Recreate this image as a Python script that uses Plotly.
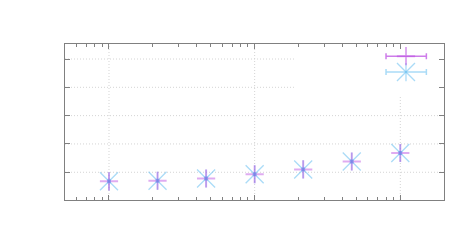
import plotly.graph_objects as go

# data
sizes = [1, 2.154, 4.642, 10, 21.54, 46.42, 100]
series_a = [0.68, 0.70, 0.78, 0.93, 1.10, 1.38, 1.68]   # magenta "+"
series_b = [0.68, 0.70, 0.78, 0.93, 1.10, 1.38, 1.68]   # cyan "*"
summary_x = [109.4]
summary_a = [5.10]
summary_b = [4.54]
summary_err_minus = [29.6]
summary_err_plus = [41.6]
y_ticks = [1, 2, 3, 4, 5]
x_major = [1, 10, 100]

MAG = "rgba(185,70,225,0.45)"
CYA = "rgba(100,190,240,0.55)"
DOT = "rgba(70,120,230,0.4)"
GRID = "#d4d4d4"

fig = go.Figure()

# cyan asterisk: diagonals + vertical arm
for xs, ys in [(sizes, series_b), (summary_x, summary_b)]:
    fig.add_trace(go.Scatter(x=xs, y=ys, mode="markers",
                             marker=dict(symbol="x-thin-open", size=18, color=CYA,
                                         line=dict(color=CYA, width=1.3)),
                             showlegend=False, hoverinfo="skip"))
    fig.add_trace(go.Scatter(x=xs, y=ys, mode="markers",
                             marker=dict(symbol="line-ns-open", size=13, color=CYA,
                                         line=dict(color=CYA, width=1.3)),
                             showlegend=False, hoverinfo="skip"))

# summary error bars
fig.add_trace(go.Scatter(x=summary_x, y=summary_b, mode="markers",
                         marker=dict(size=1, color="rgba(0,0,0,0)"),
                         error_x=dict(type="data", symmetric=False,
                                      array=summary_err_plus, arrayminus=summary_err_minus,
                                      color=CYA, thickness=1.5, width=3),
                         showlegend=False, hoverinfo="skip"))
fig.add_trace(go.Scatter(x=summary_x, y=summary_a, mode="markers",
                         marker=dict(size=1, color="rgba(0,0,0,0)"),
                         error_x=dict(type="data", symmetric=False,
                                      array=summary_err_plus, arrayminus=summary_err_minus,
                                      color="rgba(185,70,225,0.7)", thickness=1.5, width=3),
                         showlegend=False, hoverinfo="skip"))

# magenta plus
for xs, ys in [(sizes, series_a), (summary_x, summary_a)]:
    fig.add_trace(go.Scatter(x=xs, y=ys, mode="markers",
                             marker=dict(symbol="cross-thin-open", size=13, color=MAG,
                                         line=dict(color=MAG, width=2)),
                             showlegend=False, hoverinfo="skip"))

# small centre squares
fig.add_trace(go.Scatter(x=sizes, y=series_b, mode="markers",
                         marker=dict(symbol="square", size=4, color=DOT),
                         showlegend=False, hoverinfo="skip"))

# dotted grid drawn as shapes (so the opaque key box can cover part of it)
for xv in x_major:
    fig.add_shape(type="line", xref="x", yref="paper", x0=xv, x1=xv, y0=0, y1=1,
                  line=dict(color=GRID, width=1, dash="1px,2px"), layer="below")
for yv in y_ticks:
    fig.add_shape(type="line", xref="paper", yref="y", x0=0, x1=1, y0=yv, y1=yv,
                  line=dict(color=GRID, width=1, dash="1px,2px"), layer="below")

# opaque (empty) key box
fig.add_shape(type="rect", xref="paper", yref="paper",
              x0=0.604, x1=1.0, y0=0.665, y1=1.0,
              fillcolor="white", line=dict(width=0), layer="below")

axis_common = dict(showline=True, linecolor="#808080", linewidth=1, mirror="ticks",
                   ticks="inside", tickcolor="#808080", showticklabels=False,
                   showgrid=False, zeroline=False)

fig.update_xaxes(type="log", range=[-0.302, 2.300], dtick=1, ticklen=5,
                 minor=dict(ticks="inside", ticklen=3, tickcolor="#808080",
                            dtick="D1", showgrid=False),
                 **axis_common)
fig.update_yaxes(range=[0.02, 5.53], tickvals=y_ticks, ticklen=5, **axis_common)

# page body adds an 8px offset, so margins compensate for it
fig.update_layout(width=472, height=250,
                  margin=dict(l=57, r=36, t=36, b=57.5),
                  plot_bgcolor="white", paper_bgcolor="white",
                  showlegend=False)

fig.write_html("out.html")
